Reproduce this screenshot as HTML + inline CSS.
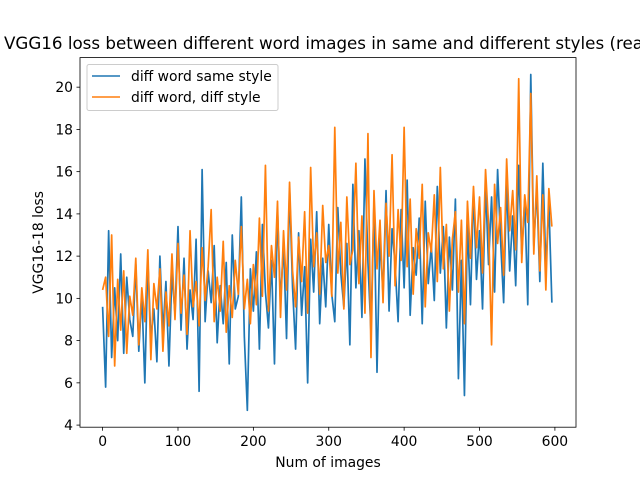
<!DOCTYPE html>
<html><head><meta charset="utf-8"><style>
html,body{margin:0;padding:0;background:#fff;}
svg{display:block;font-family:"DejaVu Sans","Liberation Sans",sans-serif;}
</style></head><body>
<svg id="chart" width="640" height="480" viewBox="0 0 640 480">
<text x="4" y="49" font-size="16.7" fill="#000">VGG16 loss between different word images in same and different styles (real)</text>
<g id="plot"></g>
</svg>
<script>
const xStep = 4;
const blueValues = [9.6,5.8,13.2,7.2,10.5,8,12.1,7.4,11,9,8.2,11.6,7.5,10.2,6,11.8,8.1,9.5,7,12,8.4,10.8,6.8,11.2,9.3,
13.4,8.5,11.9,7.6,10.4,9,12.8,5.6,16.1,8.9,11.3,9.8,12.5,7.9,10.6,8.8,11.7,6.9,13,9.5,10.1,14.8,8.2,4.7,11.4,
9.4,12.2,7.6,13.5,10.3,8.6,11.8,6.9,14.2,9.8,12.6,8.1,15.2,10.5,7.6,13.1,9.2,11.5,6,12.8,10.3,14.1,8.8,11.9,9.6,
13.5,10.2,8.9,14.3,11.2,9.6,12.6,7.8,15.4,10.5,13.2,9.1,16.6,11.7,8.4,14.6,6.5,12.9,10.2,15.1,9.4,13.3,11.6,8.9,14.2,
10.5,15.6,9.2,12.4,11.1,13.8,8.8,14.6,10.7,12.5,9.9,15.3,11.2,13.4,8.6,12.9,10.4,14.7,6.2,11.8,5.4,13.6,9.7,15.1,10.9,
13.2,9.5,15.4,11.6,14.8,10.3,16.1,12.7,9.8,15.6,11.3,13.9,10.6,16.3,12.1,14.7,9.7,20.6,12.5,15.2,10.8,16.4,11.4,14.5,9.8];
const orangeValues = [10.4,11,8.2,13,6.8,10.9,8.5,11.3,7.4,10.1,9.2,11.9,7.8,10.5,8.9,12.3,7.1,10.7,9.5,11.4,7.5,10.3,8.7,12.1,9,
12.6,9.3,11.1,8.3,13.2,9.6,10.8,8.7,12.4,9.9,11.5,14.2,8.9,11,9.4,12.7,8.4,10.6,9.1,11.8,10.2,13.4,9.5,10.9,8.8,
11.6,9.7,13.8,10.1,16.3,9.4,12.5,11,14.6,9.1,13.2,10.4,15.5,11.3,9.6,12.9,10.8,14.1,9.3,16.2,11.5,13.1,10.2,14.4,11.7,
12.5,10.1,18.1,11.2,13.6,9.5,14.8,11.6,12.3,16.4,10.7,13.9,9.3,17.8,7.2,15.1,11.4,13.7,9.8,14.5,12,16.8,10.6,14.2,11.8,
18.1,11.5,14.7,10.2,13.3,11.9,15.4,9.6,13.1,12.2,14.9,10.8,16.2,11.4,13.5,9.4,12.8,14.1,10.3,13.7,8.8,14.6,11.9,15.3,12.4,
14.8,11.2,16.1,13.5,7.8,15.4,12.6,14.3,11.1,16.6,13.2,15.1,12.3,20.4,11.7,14.9,13.6,19.7,12.1,15.8,11.3,14.9,10.4,15.2,13.4];
const xTicks = [0,100,200,300,400,500,600];
const yTicks = [4,6,8,10,12,14,16,18,20];
const seriesNames = ["diff word same style","diff word, diff style"];

const L=80,R=576,T=57.6,B=427.2;
const xMin=-30,xMax=628,yMin=3.9,yMax=21.4;
const sx=v=>L+(v-xMin)/(xMax-xMin)*(R-L);
const sy=v=>B-(v-yMin)/(yMax-yMin)*(B-T);
const NS="http://www.w3.org/2000/svg";
const g=document.getElementById('plot');
function mk(tag,attrs,parent){const e=document.createElementNS(NS,tag);for(const k in attrs)e.setAttribute(k,attrs[k]);(parent||g).appendChild(e);return e;}

function drawSeries(vals,color,name){
  const pts=vals.map((v,i)=>sx(i*xStep).toFixed(2)+","+sy(v).toFixed(2)).join(" ");
  const p=mk('polyline',{points:pts,fill:'none',stroke:color,'stroke-width':1.7,'stroke-linejoin':'round'});
  
  
}
drawSeries(blueValues,'#1f77b4','series-same-style');
drawSeries(orangeValues,'#ff7f0e','series-diff-style');

const frame=mk('rect',{x:L,y:T,width:R-L,height:B-T,fill:'none',stroke:'#000','stroke-width':0.8});



xTicks.forEach(t=>{
  const x=sx(t);
  const tk=mk('line',{x1:x,x2:x,y1:B,y2:B+3.5,stroke:'#000','stroke-width':0.8});
  
  
  const lb=mk('text',{x:x,y:B+19,'text-anchor':'middle','font-size':13.9});
  lb.textContent=t;
  
  
});
yTicks.forEach(t=>{
  const y=sy(t);
  const tk=mk('line',{x1:L-3.5,x2:L,y1:y,y2:y,stroke:'#000','stroke-width':0.8});
  
  
  const lb=mk('text',{x:L-7,y:y+5,'text-anchor':'end','font-size':13.9});
  lb.textContent=t;
  
  
});
const xt=mk('text',{x:(L+R)/2,y:467,'text-anchor':'middle','font-size':13.9});
xt.textContent='Num of images';


const yt=mk('text',{x:0,y:0,'text-anchor':'middle','font-size':13.9,transform:'translate(43,'+((T+B)/2)+') rotate(-90)'});
yt.textContent='VGG16-18 loss';



const lg=mk('g',{});


mk('rect',{x:87,y:64.5,width:191,height:46,rx:2,fill:'#fff','fill-opacity':0.8,stroke:'#ccc','stroke-width':1},lg);
const colors=['#1f77b4','#ff7f0e'];
seriesNames.forEach((n,i)=>{
  const y=76+i*21;
  const ln=mk('line',{x1:92,x2:120,y1:y,y2:y,stroke:colors[i],'stroke-width':1.5},lg);
  
  
  const tx=mk('text',{x:131,y:y+5,'font-size':13.9},lg);
  tx.textContent=n;
  
  
});
</script>
</body></html>
